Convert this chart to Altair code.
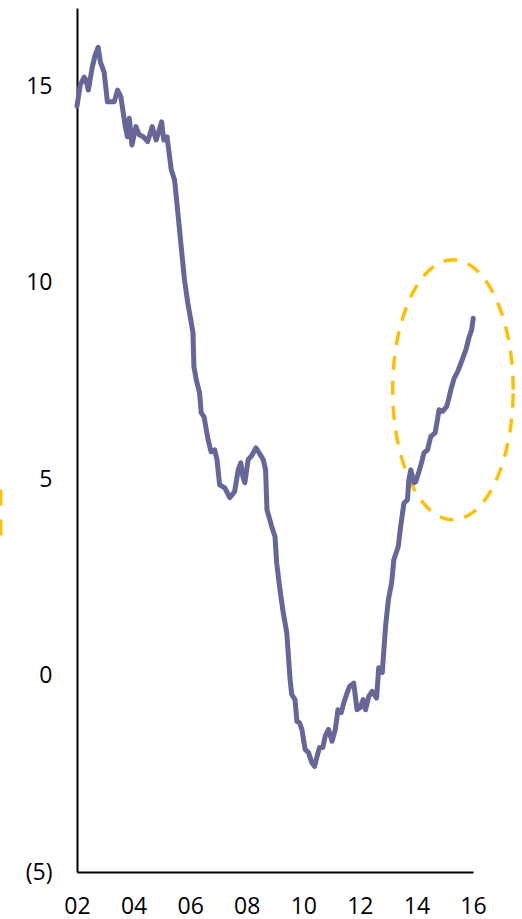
import altair as alt
import numpy as np
import pandas as pd

# Months elapsed since January 2002 for each reading of the series
months = [
    0, 1.4, 3.0, 3.8, 4.8, 6.5, 7.7, 9.0, 9.9, 11.5,
    12.9, 15.8, 17.2, 18.6, 20.5, 21.4, 22.2, 23.3, 25.0, 26.4,
    28.1, 30.0, 31.9, 33.6, 35.9, 36.8, 38.2, 40.0, 41.4, 42.8,
    44.2, 45.6, 47.0, 48.5, 49.2, 49.6, 50.6, 52.0, 52.7, 53.9,
    55.6, 56.9, 58.4, 59.4, 60.5, 62.7, 64.8, 66.9, 68.4, 69.5,
    70.4, 71.2, 72.6, 74.1, 75.9, 77.3, 79.0, 80.0, 80.6, 82.6,
    84.0, 84.7, 86.1, 87.5, 89.0, 90.4, 91.1, 92.5, 93.3, 94.4,
    95.4, 96.8, 98.2, 99.6, 100.8, 101.9, 102.9, 104.3, 105.3, 106.7,
    108.2, 109.6, 110.7, 112.1, 113.2, 114.6, 115.7, 117.4, 118.8, 120.2,
    121.4, 122.4, 123.8, 125.2, 127.1, 128.0, 129.5, 130.9, 132.1, 133.5,
    134.4, 136.3, 137.3, 138.7, 140.2, 140.8, 141.6, 143.0, 143.7, 145.1,
    146.1, 147.2, 148.7, 150.1, 151.9, 152.9, 153.6, 155.1, 156.8, 157.6,
    158.6, 160.0, 161.5, 162.9, 163.9, 165.0, 166.4, 167.4, 168.1,
]

# Series values (percent)
values = [
    14.50, 15.04, 15.24, 15.17, 14.91, 15.50, 15.80, 16.00, 15.63, 15.37,
    14.61, 14.61, 14.91, 14.74, 13.98, 13.72, 14.19, 13.51, 13.98, 13.77,
    13.72, 13.60, 13.98, 13.64, 14.10, 13.64, 13.72, 12.88, 12.62, 11.78,
    10.92, 10.08, 9.49, 8.98, 8.73, 7.87, 7.53, 7.20, 6.69, 6.59,
    6.01, 5.70, 5.75, 5.50, 4.86, 4.78, 4.53, 4.69, 5.24, 5.42,
    5.06, 4.91, 5.50, 5.60, 5.80, 5.67, 5.50, 5.24, 4.22, 3.80,
    3.54, 2.88, 2.19, 1.60, 1.09, -0.10, -0.48, -0.61, -1.17, -1.20,
    -1.37, -1.88, -1.96, -2.21, -2.31, -2.04, -1.83, -1.83, -1.54, -1.37,
    -1.67, -1.37, -0.87, -0.94, -0.69, -0.44, -0.27, -0.19, -0.87, -0.81,
    -0.61, -0.87, -0.53, -0.40, -0.57, 0.20, 0.08, 1.25, 1.93, 2.37,
    2.95, 3.29, 3.80, 4.39, 4.48, 4.99, 5.24, 4.91, 4.94, 5.20,
    5.41, 5.67, 5.75, 6.09, 6.18, 6.51, 6.77, 6.73, 6.85, 7.02,
    7.28, 7.57, 7.74, 7.96, 8.12, 8.30, 8.63, 8.80, 9.10,
]

x_ticks = [2002, 2004, 2006, 2008, 2010, 2012, 2014, 2016]
y_ticks = [-5, 0, 5, 10, 15]

# Dashed ellipse highlighting the latest stretch (centre and radii in data units)
ell_center = (2015.29, 7.28)
ell_radius = (2.13, 3.31)
# Dashed edge peeking in at the far left
edge_x = 1999.30
edge_y = (4.74, 3.51)

series = pd.DataFrame({"t": [2002 + m / 12 for m in months], "v": values})

theta = np.linspace(0, 2 * np.pi, 121)
ellipse = pd.DataFrame({
    "i": np.arange(len(theta)),
    "t": ell_center[0] + ell_radius[0] * np.cos(theta),
    "v": ell_center[1] + ell_radius[1] * np.sin(theta),
})
edge = pd.DataFrame({"t": [edge_x], "v": [edge_y[0]], "v2": [edge_y[1]]})

font = "Open Sans"

x_scale = alt.Scale(domain=[2002, 2016], nice=False, zero=False)
y_scale = alt.Scale(domain=[-5, 17], nice=False, zero=False)

x_axis = alt.Axis(
    values=x_ticks, title=None, grid=False, ticks=False,
    domainColor="#000000", domainWidth=2,
    labelExpr="substring(toString(datum.value), 2, 4)",
    labelFont=font, labelFontSize=23, labelColor="#000000",
    labelPadding=23, labelFlush=False,
)
y_axis = alt.Axis(
    values=y_ticks, title=None, grid=False, ticks=False,
    domainColor="#000000", domainWidth=2,
    labelExpr="datum.value < 0 ? '(' + (-datum.value) + ')' : toString(datum.value)",
    labelFont=font, labelFontSize=23, labelColor="#000000",
    labelPadding=25, labelFlush=False,
)

line = alt.Chart(series).mark_line(
    color="#666699", strokeWidth=5, strokeJoin="round", strokeCap="round"
).encode(
    x=alt.X("t:Q", scale=x_scale, axis=x_axis),
    y=alt.Y("v:Q", scale=y_scale, axis=y_axis),
)

ring = alt.Chart(ellipse).mark_line(
    color="#FFC000", strokeWidth=3.5, strokeDash=[14, 11]
).encode(
    x="t:Q", y="v:Q", order="i:Q",
)

edge_mark = alt.Chart(edge).mark_rule(
    color="#FFC000", strokeWidth=3.5, strokeDash=[16, 14]
).encode(
    x="t:Q", y="v:Q", y2="v2:Q",
)

chart = alt.layer(ring, edge_mark, line).properties(
    width=396,
    height=864,
    autosize=alt.AutoSizeParams(type="none"),
    padding={"left": 77, "top": 8, "right": 49, "bottom": 47},
    background="#ffffff",
).configure_view(stroke=None)

chart.save("out.html", embed_options={"renderer": "svg", "actions": False})
